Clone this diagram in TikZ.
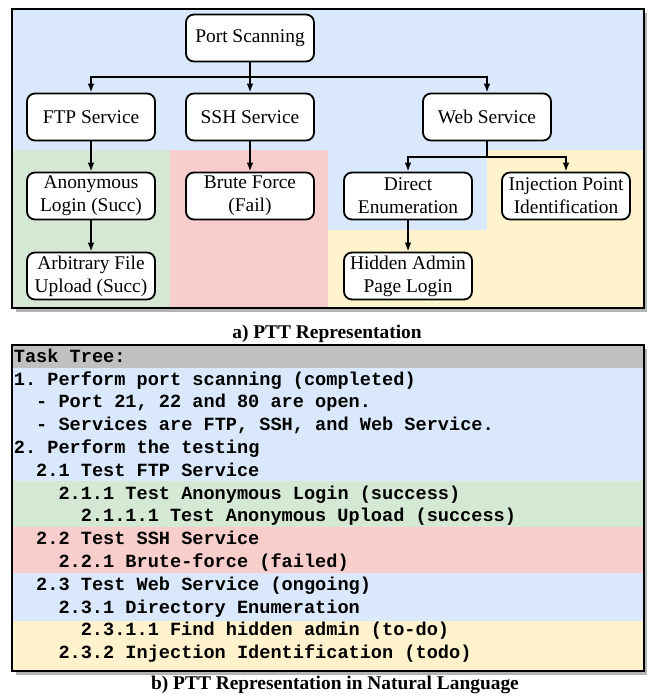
\documentclass[tikz,border=0pt]{standalone}
\usepackage{fontspec}
\setmainfont{Liberation Serif}
\setmonofont{Liberation Mono}
\usetikzlibrary{arrows.meta}
\definecolor{bgblue}{HTML}{DAE8FC}
\definecolor{bggreen}{HTML}{D5E8D4}
\definecolor{bgred}{HTML}{F8CECC}
\definecolor{bgyellow}{HTML}{FFF2CC}
\definecolor{hdrgray}{HTML}{C0C0C0}
\definecolor{shadowgray}{HTML}{B4B4B4}
\tikzset{
task/.style={
	  draw, line width=0.9pt, fill=white, rounded corners=4pt,
	    minimum width=64pt, minimum height=23.5pt, inner sep=0pt,
    align=center, font=\fontsize{9.7}{11.5}\selectfont},
link/.style={line width=0.9pt, -{Latex[length=4.5pt,width=3.4pt]}},
panel/.style={draw, line width=0.9pt},
row/.style={anchor=base west, inner sep=0pt,
	  font=\ttfamily\bfseries\fontsize{9.3}{11}\selectfont},
caption/.style={anchor=base, inner sep=0pt,
	  font=\bfseries\fontsize{9.7}{12}\selectfont}
}

\begin{document}
\begin{tikzpicture}[x=0.5pt, y=-0.5pt]
	\useasboundingbox (0,0) rectangle (647,700);
	% a) tree panel
	\fill[shadowgray] (16,13) rectangle (647,312);
	\fill[bgblue] (12,9) rectangle (644,308);
	\fill[bggreen] (12,150) rectangle (170,308);
	\fill[bgred] (170,150) rectangle (328,308);
	\fill[bgyellow] (328,230) rectangle (644,308);
	\fill[bgyellow] (487,150) rectangle (644,230);
	\draw[panel] (12,9) rectangle (644,308);

	\node[task] (ps) at (250,38) {Port Scanning};
	\node[task] (ftp) at (91,117) {FTP Service};
	\node[task] (ssh) at (250,117) {SSH Service};
	\node[task] (web) at (487,117) {Web Service};
	\node[task] (anon) at (91,196) {Anonymous\\Login (Succ)};
	\node[task] (brute) at (250,196) {Brute Force\\(Fail)};
	\node[task] (direct) at (408,196) {Direct\\Enumeration};
	\node[task] (inj) at (566,196) {Injection Point\\Identification};
	\node[task] (arb) at (91,276) {Arbitrary File\\Upload (Succ)};
	\node[task] (hidden) at (408,276) {Hidden Admin\\Page Login};

	\draw[link] (ps.south) -- ++(0,15) -| (ftp.north);
	\draw[link] (ps.south) -- (ssh.north);
	\draw[link] (ps.south) -- ++(0,15) -| (web.north);
	\draw[link] (ftp) -- (anon);
	\draw[link] (anon) -- (arb);
	\draw[link] (ssh) -- (brute);
	\draw[link] (web.south) -- ++(0,16) -| (direct.north);
	\draw[link] (web.south) -- ++(0,16) -| (inj.north);
	\draw[link] (direct) -- (hidden);

	\node[caption] (capa) at (327,338) {a) PTT Representation};

	% b) text panel
	\fill[shadowgray] (16,349) rectangle (647,675);
	\fill[hdrgray] (12,345) rectangle (644,368);
	\fill[bgblue] (12,368) rectangle (644,481);
	\fill[bggreen] (12,481) rectangle (644,527);
	\fill[bgred] (12,527) rectangle (644,573);
	\fill[bgblue] (12,573) rectangle (644,621);
	\fill[bgyellow] (12,621) rectangle (644,671);
	\draw[panel] (12,345) rectangle (644,671);

	\foreach \ind/\txt [count=\n from 0] in {
		0/{Task Tree:},
		0/{1. Perform port scanning (completed)},
		2/{- Port 21, 22 and 80 are open.},
		2/{- Services are FTP, SSH, and Web Service.},
		0/{2. Perform the testing},
		2/{2.1 Test FTP Service},
		4/{2.1.1 Test Anonymous Login (success)},
		6/{2.1.1.1 Test Anonymous Upload (success)},
		2/{2.2 Test SSH Service},
		4/{2.2.1 Brute-force (failed)},
		2/{2.3 Test Web Service (ongoing)},
		4/{2.3.1 Directory Enumeration},
		6/{2.3.1.1 Find hidden admin (to-do)},
		4/{2.3.2 Injection Identification (todo)}}
		\node[row] (r\n) at (13.5+11.15*\ind, 362.2+22.8*\n) {\txt};

	\node[caption] (capb) at (335,689) {b) PTT Representation in Natural Language};
\end{tikzpicture}
\end{document}
